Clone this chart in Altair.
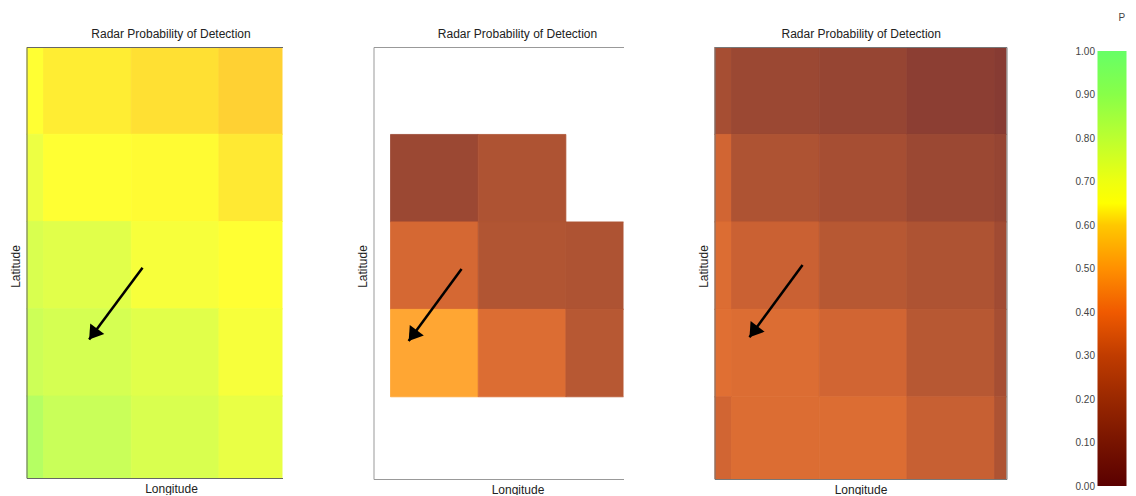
import altair as alt
import pandas as pd

# ---- colour map (value stops -> colours) ----
cmap_stops = [0.0, 0.1, 0.2, 0.3, 0.4, 0.5, 0.6, 0.65, 0.7, 0.8, 0.9, 1.0]
cmap_colors = ["#5a0000", "#781400", "#9a2800", "#c03c00", "#f05a00", "#ff9000",
               "#ffc800", "#ffff00", "#eeff10", "#bbff30", "#88ff48", "#66ff66"]
cell_alpha = 0.8   # heat-map cells are drawn 80 % opaque over white

# ---- grid cell edges (index units) ----
lon_edges = [0, 1, 2, 3, 4, 5]
lat_edges = [5, 4, 3, 2, 1, 0]          # top row first

# ---- probability of detection per cell (rows top->bottom, cols left->right) ----
pd_panel1 = [
    [0.65, 0.63, 0.615, 0.595],
    [0.71, 0.65, 0.645, 0.625],
    [0.76, 0.74, 0.68, 0.65],
    [0.79, 0.77, 0.74, 0.68],
    [0.85, 0.80, 0.76, 0.72],
]
pd_panel2 = [
    [None, None, None, None],
    [None, 0.13, 0.20, None],
    [None, 0.32, 0.21, 0.20],
    [None, 0.50, 0.34, 0.23],
    [None, None, None, None],
]
pd_panel3 = [
    [0.17, 0.13, 0.11, 0.07, 0.05],
    [0.31, 0.20, 0.17, 0.13, 0.11],
    [0.34, 0.29, 0.23, 0.20, 0.15],
    [0.35, 0.34, 0.31, 0.23, 0.17],
    [0.31, 0.34, 0.34, 0.28, 0.20],
]

# ---- arrows (tail -> tip) per panel ----
arrow_tail_lon = [2.129, 1.81, 1.81]
arrow_tail_lat = [2.47, 2.462, 2.508]
arrow_tip_lon = [1.52, 1.207, 1.205]
arrow_tip_lat = [1.648, 1.637, 1.682]

# ---- visible extents of each panel ----
lon_view = [[0.806, 3.725], [0.806, 3.657], [0.806, 4.136]]
lat_view = [0.06, 5]

cb_ticks = [0.0, 0.1, 0.2, 0.3, 0.4, 0.5, 0.6, 0.7, 0.8, 0.9, 1.0]

title_text = "Radar Probability of Detection"


def blend(hex_color, a):
    rgb = [int(hex_color[i:i + 2], 16) for i in (1, 3, 5)]
    return "#%02x%02x%02x" % tuple(round(a * c + (1 - a) * 255) for c in rgb)


cell_colors = [blend(c, cell_alpha) for c in cmap_colors]
cscale = alt.Scale(domain=cmap_stops, range=cell_colors, interpolate="rgb")


def make_panel(values, k, width, height, title_dx, title_x, frame_color, right_frame):
    rows = []
    for i, row in enumerate(values):
        for j, v in enumerate(row):
            if v is None:
                continue
            rows.append(dict(lon0=lon_edges[j], lon1=lon_edges[j + 1],
                             lat0=lat_edges[i + 1], lat1=lat_edges[i], pd=v))
    cells = pd.DataFrame(rows)
    arrow = pd.DataFrame(dict(tail_lon=[arrow_tail_lon[k]], tail_lat=[arrow_tail_lat[k]],
                              tip_lon=[arrow_tip_lon[k]], tip_lat=[arrow_tip_lat[k]]))
    xs = alt.Scale(domain=lon_view[k], nice=False, zero=False)
    ys = alt.Scale(domain=lat_view, nice=False, zero=False)

    bottom_axis = alt.Axis(orient="bottom", title="Longitude", labels=False, ticks=False,
                           grid=False, domain=True, domainColor=frame_color, domainWidth=1,
                           titleX=title_x, titlePadding=5, titleFontSize=12,
                           titleFontWeight="normal", titleColor="#222", zindex=1)
    left_axis = alt.Axis(orient="left", title="Latitude", labels=False, ticks=False,
                         grid=False, domain=True, domainColor=frame_color, domainWidth=1,
                         titlePadding=4, titleFontSize=12, titleFontWeight="normal",
                         titleColor="#222", titleY=219, zindex=1)
    top_axis = alt.Axis(orient="top", title=None, labels=False, ticks=False, grid=False,
                        domain=True, domainColor=frame_color, domainWidth=1, zindex=1)
    right_axis = alt.Axis(orient="right", title=None, labels=False, ticks=False, grid=False,
                          domain=right_frame, domainColor=frame_color, domainWidth=1, zindex=1)

    rect = alt.Chart(cells).mark_rect(clip=True, strokeWidth=0.8).encode(
        x=alt.X("lon0:Q", scale=xs, axis=bottom_axis),
        x2="lon1:Q",
        y=alt.Y("lat0:Q", scale=ys, axis=left_axis),
        y2="lat1:Q",
        color=alt.Color("pd:Q", scale=cscale, legend=None),
        stroke=alt.Stroke("pd:Q", scale=cscale, legend=None),
    )
    line = alt.Chart(arrow).mark_rule(color="black", strokeWidth=2.5).encode(
        x=alt.X("tail_lon:Q", scale=xs, axis=top_axis),
        y=alt.Y("tail_lat:Q", scale=ys, axis=right_axis),
        x2="tip_lon:Q",
        y2="tip_lat:Q",
    )
    head = alt.Chart(arrow).mark_point(
        shape="M0,0L0.65,1L-0.65,1Z", filled=True, color="black", opacity=1,
        size=729, angle=217, strokeWidth=0,
    ).encode(
        x=alt.X("tip_lon:Q", scale=xs, axis=None),
        y=alt.Y("tip_lat:Q", scale=ys, axis=None),
    )
    return alt.layer(rect, line, head).resolve_axis(x="independent", y="independent").properties(
        width=width, height=height,
        title=alt.TitleParams(title_text, fontSize=12, fontWeight="normal", color="#222",
                              anchor="middle", dx=title_dx, offset=6),
    )


p1 = make_panel(pd_panel1, 0, 256, 431, 16.5, 144.5, "#666", False)
p2 = make_panel(pd_panel2, 1, 250, 432, 19, 144, "#999", False)
p3 = make_panel(pd_panel3, 2, 292, 432, 0.7, 146, "#777", True)

cb_df = pd.DataFrame(dict(lo=[cb_ticks[0]], hi=[cb_ticks[-1]]))
grad = alt.LinearGradient(
    gradient="linear",
    stops=[alt.GradientStop(offset=s, color=c) for s, c in zip(cmap_stops, cmap_colors)],
    x1=0, x2=0, y1=1, y2=0,
)
cb = alt.Chart(cb_df).mark_rect(fill=grad).encode(
    y=alt.Y("lo:Q", scale=alt.Scale(domain=[0, 1], range=[439, 4], nice=False, zero=False),
            axis=alt.Axis(values=cb_ticks, format=".2f", ticks=False, domain=False, grid=False,
                          labelPadding=3, labelFontSize=10, labelColor="#444", title=None)),
    y2="hi:Q",
).properties(
    width=29, height=440,
    title=alt.TitleParams("P", anchor="start", frame="group", dx=21, offset=23, fontSize=10,
                          fontWeight="normal", color="#444"),
)

chart = alt.hconcat(p1, p2, p3, cb, spacing=91, bounds="flush").properties(
    padding={"left": 1.5, "top": 5, "right": 0, "bottom": 0}
).configure(font="Liberation Sans").configure_view(stroke=None)

chart.save("out.html", embed_options={"renderer": "svg", "actions": False})
